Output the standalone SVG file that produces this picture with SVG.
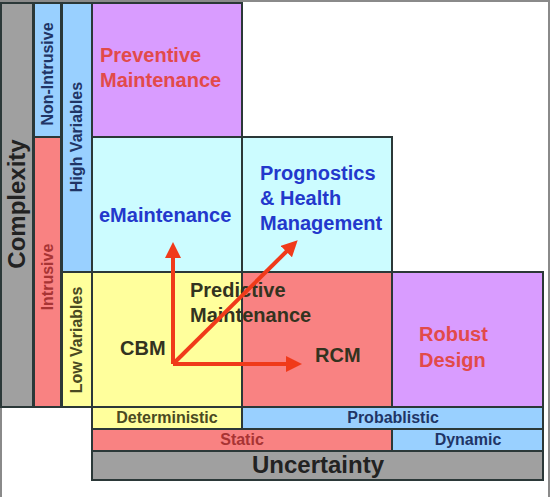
<svg xmlns="http://www.w3.org/2000/svg" width="550" height="497" viewBox="0 0 550 497">
<style>
.c{stroke:#2b3838;stroke-width:2}
.g{fill:#a0a0a0}.b{fill:#99d0ff}.r{fill:#f98282}.y{fill:#ffff9c}.p{fill:#d99cff}.cy{fill:#ccfcff}
text{font-family:"Liberation Sans",Arial,sans-serif;font-weight:bold}
.big{font-size:24px;fill:#222}
.lab{font-size:16px}
.nav{fill:#1f3566}.ol{fill:#4a4a22}.mr{fill:#a83434}
.node{font-size:20px}
.red{fill:#e24a4a}.blu{fill:#2338cc}.dk{fill:#33331f}
.arr{stroke:#f03a1a;stroke-width:4;fill:none}
</style>
<defs>
<marker id="ah" markerWidth="4" markerHeight="4" refX="2" refY="2" orient="auto" markerUnits="strokeWidth">
<path d="M0,0 L4,2 L0,4 z" fill="#f03a1a"/>
</marker>
</defs>
<rect x="0" y="0" width="550" height="497" fill="#ffffff"/>
<path d="M1,497 V1 H549 V497" fill="none" stroke="#8a8a8a" stroke-width="2"/>

<g id="complexity">
<rect class="g c" x="1" y="3" width="32" height="404"/>
<text class="big" transform="translate(25,204) rotate(-90)" text-anchor="middle">Complexity</text>
</g>
<g id="non-intrusive">
<rect class="b c" x="34" y="3" width="27" height="134"/>
<text class="lab nav" transform="translate(53,74) rotate(-90)" text-anchor="middle">Non-Intrusive</text>
</g>
<g id="intrusive">
<rect class="r c" x="34" y="137" width="27" height="270"/>
<text class="lab mr" transform="translate(53,277) rotate(-90)" text-anchor="middle">Intrusive</text>
</g>
<g id="high-variables">
<rect class="b c" x="62" y="3" width="30" height="269"/>
<text class="lab nav" transform="translate(82,137) rotate(-90)" text-anchor="middle">High Variables</text>
</g>
<g id="low-variables">
<rect class="y c" x="62" y="272" width="30" height="135"/>
<text class="lab ol" transform="translate(82,340) rotate(-90)" text-anchor="middle">Low Variables</text>
</g>

<g id="preventive">
<rect class="p c" x="92" y="3" width="150" height="134"/>
<text class="node red" x="100" y="62">Preventive</text>
<text class="node red" x="100" y="87">Maintenance</text>
</g>
<g id="emaintenance">
<rect class="cy c" x="92" y="137" width="150" height="135"/>
<text class="node blu" x="99" y="222">eMaintenance</text>
</g>
<g id="phm">
<rect class="cy c" x="242" y="137" width="150" height="135"/>
<text class="node blu" x="260" y="180">Prognostics</text>
<text class="node blu" x="260" y="205">&amp; Health</text>
<text class="node blu" x="260" y="230">Management</text>
</g>
<g id="cbm">
<rect class="y c" x="92" y="272" width="150" height="135"/>
<text class="node dk" x="120" y="355">CBM</text>
</g>
<g id="rcm">
<rect class="r c" x="242" y="272" width="150" height="135"/>
<text class="node dk" x="315" y="362">RCM</text>
</g>
<g id="robust">
<rect class="p c" x="392" y="272" width="151" height="135"/>
<text class="node red" x="419" y="341">Robust</text>
<text class="node red" x="419" y="367">Design</text>
</g>

<g id="deterministic">
<rect class="y c" x="92" y="407" width="150" height="22"/>
<text class="lab ol" x="167" y="423" text-anchor="middle">Deterministic</text>
</g>
<g id="probabilistic">
<rect class="b c" x="242" y="407" width="301" height="22"/>
<text class="lab nav" x="393" y="423" text-anchor="middle">Probablistic</text>
</g>
<g id="static">
<rect class="r c" x="92" y="429" width="300" height="22"/>
<text class="lab mr" x="242" y="445" text-anchor="middle">Static</text>
</g>
<g id="dynamic">
<rect class="b c" x="392" y="429" width="151" height="22"/>
<text class="lab nav" x="468" y="445" text-anchor="middle">Dynamic</text>
</g>
<g id="uncertainty">
<rect class="g c" x="92" y="451" width="451" height="29"/>
<text class="big" x="318" y="473" text-anchor="middle">Uncertainty</text>
</g>

<g id="predictive">
<text class="node dk" x="190" y="297">Predictive</text>
<text class="node dk" x="190" y="322">Maintenance</text>
</g>

<g id="connectors">
<path class="arr" d="M173,364 V250" marker-end="url(#ah)"/>
<path class="arr" d="M173,364 H294" marker-end="url(#ah)"/>
<path class="arr" d="M173,364 L292,246" marker-end="url(#ah)"/>
</g>
</svg>
